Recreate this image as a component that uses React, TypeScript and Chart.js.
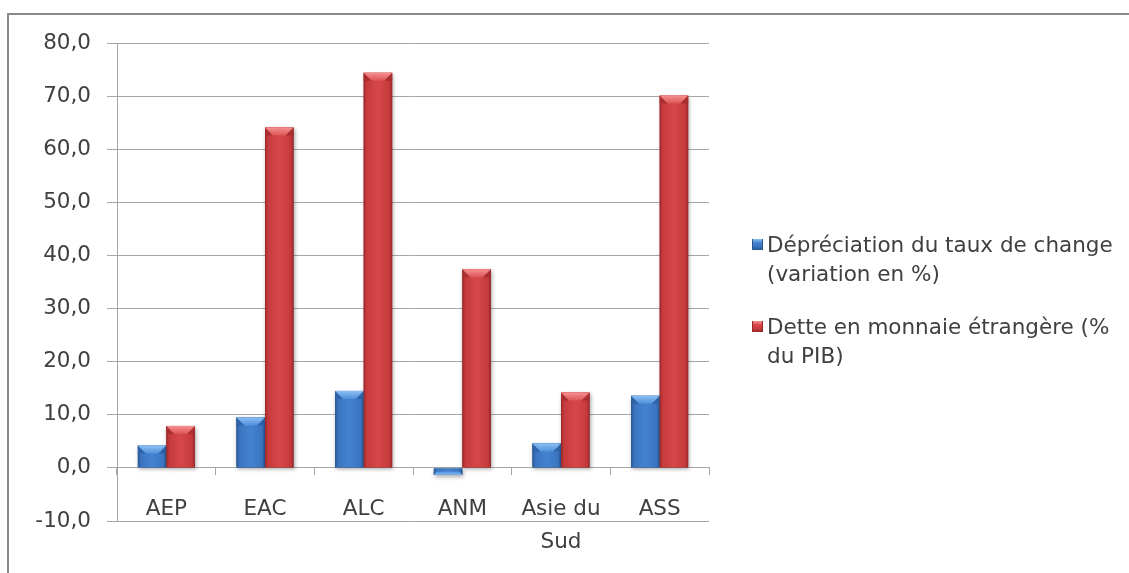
import React, { useEffect, useRef } from 'react';
import { Chart, registerables } from 'chart.js';

Chart.register(...registerables);

// Regions (x categories)
const regions: (string | string[])[] = ['AEP', 'EAC', 'ALC', 'ANM', ['Asie du', 'Sud'], 'ASS'];
// Exchange-rate depreciation (% change)
const depreciation = [4.2, 9.5, 14.5, -1.3, 4.6, 13.6];
// Foreign-currency debt (% of GDP)
const foreignDebt = [7.9, 64.1, 74.4, 37.4, 14.2, 70.1];
// Legend texts, already broken into lines
const legendLines = [
  ['Dépréciation du taux de change', '(variation en %)'],
  ['Dette en monnaie étrangère (%', 'du PIB)'],
];
// Value axis
const yMin = -10;
const yMax = 80;
const yStep = 10;

const FONT = '"DejaVu Sans", sans-serif';
const TEXT = '#404040';
const GRID = '#a6a6a6';

const palettes = [
  {
    base: '#3a73bf',
    edge: '#29548f',
    mid: '#3a74c0',
    light: '#4482cf',
    bevelTop: '#8cc0f4',
    bevelBottom: '#4f8fd9',
    facet: '#2f62a6',
  },
  {
    base: '#c83a3c',
    edge: '#962729',
    mid: '#c63a3c',
    light: '#d64749',
    bevelTop: '#f79090',
    bevelBottom: '#dc5456',
    facet: '#a82e30',
  },
];

// Repaints every bar element with a glossy, bevelled face
const bevelBars = {
  id: 'bevelBars',
  afterDatasetsDraw(chart: any) {
    const ctx = chart.ctx as CanvasRenderingContext2D;
    chart.data.datasets.forEach((_ds: any, di: number) => {
      const meta = chart.getDatasetMeta(di);
      const pal = palettes[di];
      meta.data.forEach((bar: any) => {
        const { x, y, base, width } = bar.getProps(['x', 'y', 'base', 'width'], true);
        const left = x - width / 2;
        const right = x + width / 2;
        const top = Math.min(y, base);
        const bottom = Math.max(y, base);
        const h = bottom - top;
        ctx.save();
        const g = ctx.createLinearGradient(left, 0, right, 0);
        g.addColorStop(0, pal.edge);
        g.addColorStop(0.1, pal.mid);
        g.addColorStop(0.5, pal.light);
        g.addColorStop(0.9, pal.mid);
        g.addColorStop(1, pal.edge);
        ctx.shadowColor = 'rgba(0,0,0,0.35)';
        ctx.shadowBlur = 4;
        ctx.shadowOffsetX = 1;
        ctx.shadowOffsetY = 2;
        ctx.fillStyle = g;
        ctx.fillRect(left, top, width, h);
        ctx.shadowColor = 'transparent';

        const b = Math.min(8, h / 2, width / 3);
        const positive = y <= base;
        const ey = positive ? top : bottom;
        const dir = positive ? 1 : -1;

        // side facets of the bevel
        ctx.fillStyle = pal.facet;
        ctx.beginPath();
        ctx.moveTo(left, ey);
        ctx.lineTo(left + b, ey + dir * b);
        ctx.lineTo(left, ey + dir * b);
        ctx.closePath();
        ctx.fill();
        ctx.beginPath();
        ctx.moveTo(right, ey);
        ctx.lineTo(right - b, ey + dir * b);
        ctx.lineTo(right, ey + dir * b);
        ctx.closePath();
        ctx.fill();

        // lit top facet
        ctx.beginPath();
        ctx.moveTo(left, ey);
        ctx.lineTo(right, ey);
        ctx.lineTo(right - b, ey + dir * b);
        ctx.lineTo(left + b, ey + dir * b);
        ctx.closePath();
        const bg = ctx.createLinearGradient(0, ey, 0, ey + dir * b);
        bg.addColorStop(0, pal.bevelTop);
        bg.addColorStop(1, pal.bevelBottom);
        ctx.fillStyle = bg;
        ctx.fill();
        ctx.restore();
      });
    });
  },
};

function LegendMarker({ index }: { index: number }) {
  const p = palettes[index];
  return (
    <div
      style={{
        position: 'absolute',
        left: 0,
        top: 9,
        width: 11,
        height: 11,
        background: `linear-gradient(180deg, ${p.bevelTop} 0%, ${p.light} 35%, ${p.mid} 70%, ${p.edge} 100%)`,
        boxShadow: `inset 1px 0 0 ${p.edge}, inset -1px 0 0 ${p.edge}`,
      }}
    />
  );
}

export default function App() {
  const canvasRef = useRef<HTMLCanvasElement | null>(null);

  useEffect(() => {
    if (!canvasRef.current) return;
    const chart = new Chart(canvasRef.current, {
      type: 'bar',
      data: {
        labels: regions as any,
        datasets: [
          {
            label: legendLines[0].join(' '),
            data: depreciation,
            backgroundColor: palettes[0].base,
            borderWidth: 0,
            categoryPercentage: 0.578,
            barPercentage: 1,
          },
          {
            label: legendLines[1].join(' '),
            data: foreignDebt,
            backgroundColor: palettes[1].base,
            borderWidth: 0,
            categoryPercentage: 0.578,
            barPercentage: 1,
          },
        ],
      },
      options: {
        responsive: false,
        animation: false,
        devicePixelRatio: 1,
        layout: { padding: { left: 0, top: 43, right: 420, bottom: 52 } },
        plugins: {
          legend: { display: false },
          tooltip: { enabled: false },
        },
        scales: {
          x: {
            position: { y: 0 } as any,
            offset: true,
            grid: {
              offset: true,
              drawOnChartArea: false,
              drawTicks: true,
              tickLength: 7,
              color: GRID,
            },
            border: { display: true, color: GRID, width: 1 },
            ticks: {
              color: TEXT,
              padding: 19,
              maxRotation: 0,
              autoSkip: false,
              font: { family: FONT, size: 21.5, lineHeight: 1.49 },
            },
          },
          y: {
            min: yMin,
            max: yMax,
            afterFit: (scale: any) => {
              scale.width = 117;
            },
            grid: {
              color: GRID,
              tickLength: 10,
              drawTicks: true,
            },
            border: { display: true, color: GRID, width: 1 },
            ticks: {
              stepSize: yStep,
              color: TEXT,
              padding: 16,
              font: { family: FONT, size: 21.5 },
              callback: (v: any) => Number(v).toFixed(1).replace('.', ','),
            },
          },
        },
      },
      plugins: [bevelBars],
    });
    return () => chart.destroy();
  }, []);

  return (
    <div
      style={{
        position: 'absolute',
        left: 0,
        top: 0,
        width: 1129,
        height: 573,
        overflow: 'hidden',
        background: '#ffffff',
        fontFamily: FONT,
      }}
    >
      <div
        style={{
          position: 'absolute',
          left: 7,
          top: 13,
          width: 1140,
          height: 600,
          borderLeft: '2px solid #8a8a8a',
          borderTop: '2px solid #8a8a8a',
        }}
      />
      <canvas
        ref={canvasRef}
        width={1129}
        height={573}
        style={{ position: 'absolute', left: 0, top: 0, width: 1129, height: 573 }}
      />
      {legendLines.map((lines, i) => (
        <div
          key={i}
          style={{
            position: 'absolute',
            left: 752,
            top: i === 0 ? 230 : 312,
            paddingLeft: 15,
            color: TEXT,
            fontSize: 21.5,
            lineHeight: '29px',
            whiteSpace: 'nowrap',
          }}
        >
          <LegendMarker index={i} />
          {lines.map((line, j) => (
            <div key={j}>{line}</div>
          ))}
        </div>
      ))}
    </div>
  );
}
